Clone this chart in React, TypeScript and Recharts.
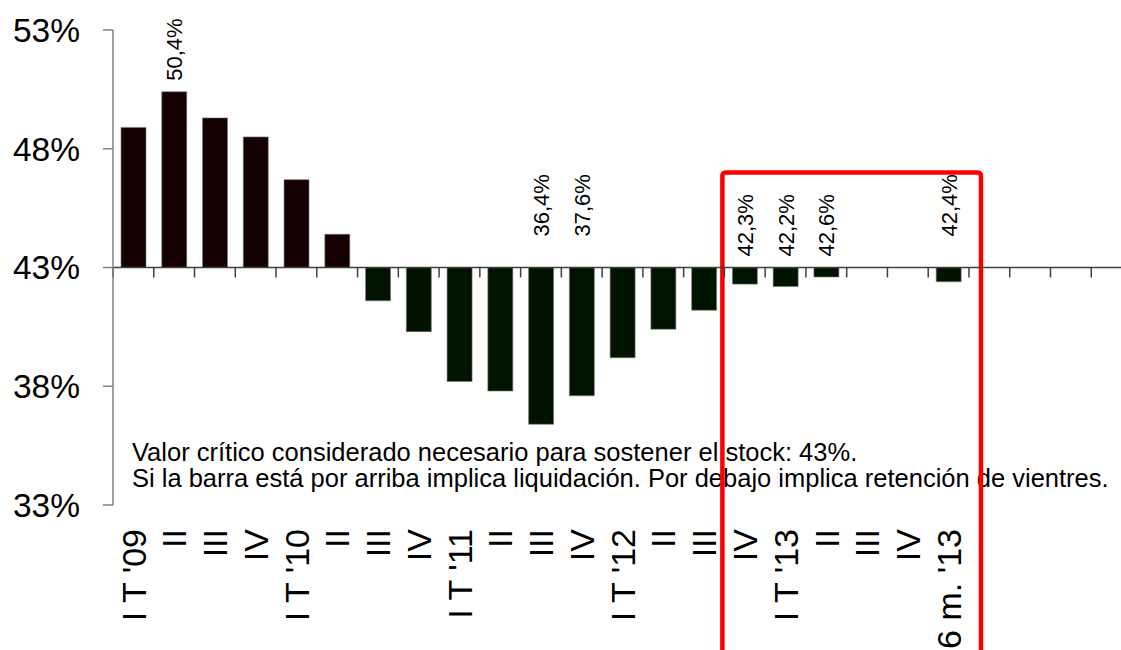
import React from 'react';
import {
  BarChart,
  Bar,
  XAxis,
  YAxis,
  Cell,
  LabelList,
  ReferenceLine,
  ReferenceArea,
} from 'recharts';

// quarters, 2009 to the first half of 2013 (last slots are empty)
const categories = [
  "I T '09", 'II', 'III', 'IV',
  "I T '10", 'II', 'III', 'IV',
  "I T '11", 'II', 'III', 'IV',
  "I T '12", 'II', 'III', 'IV',
  "I T '13", 'II', 'III', 'IV',
  "6 m. '13", '', '', '', '',
];

// share of females in slaughter, %
const values: (number | null)[] = [
  48.9, 50.4, 49.3, 48.5, 46.7, 44.4,
  41.6, 40.3, 38.2, 37.8, 36.4, 37.6, 39.2, 40.4, 41.2,
  42.3, 42.2, 42.6, null, null, 42.4,
  null, null, null, null,
];

// which bars carry a value label
const labeled = [
  false, true, false, false, false, false,
  false, false, false, false, true, true, false, false, false,
  true, true, true, false, false, true,
  false, false, false, false,
];

const yTicks = [33, 38, 43, 48, 53];
const critical = 43;

const FONT = '"Liberation Sans", Arial, sans-serif';
const POS_COLOR = '#140000';
const NEG_COLOR = '#001400';

const fmt = (v: number) => `${v.toFixed(1).replace('.', ',')}%`;

const rows = categories.map((c, i) => {
  const v = values[i];
  return {
    id: `c${i}`,
    value: v,
    range: v == null ? null : [Math.min(critical, v), Math.max(critical, v)],
    label: labeled[i] && v != null ? fmt(v) : null,
  };
});

const XTick = (props: any) => {
  const { x, y, payload } = props;
  const text = categories[payload.index];
  if (!text) return null;
  return (
    <text
      x={x}
      y={y}
      dy="0.36em"
      transform={`rotate(-90, ${x}, ${y})`}
      textAnchor="end"
      fontSize={34}
      fontFamily={FONT}
      fill="#000"
    >
      {text}
    </text>
  );
};

const BarLabel = (props: any) => {
  const { x, y, width, height, value, index } = props;
  if (!value) return null;
  const top = Math.min(y, y + height);
  const v = values[index] as number;
  // the deep negative labels sit a bit higher in the original
  const gap = v < 40 ? 31 : 11;
  const cx = x + width / 2;
  const cy = top - gap;
  return (
    <text
      x={cx}
      y={cy}
      dy="0.36em"
      transform={`rotate(-90, ${cx}, ${cy})`}
      textAnchor="start"
      fontSize={22}
      fontFamily={FONT}
      fill="#000"
    >
      {value}
    </text>
  );
};

// red frame around the 2013 bars
const Frame = (props: any) => {
  const { x, y, width, height } = props;
  return (
    <rect
      x={x - 2}
      y={y}
      width={width + 14}
      height={height}
      rx={3}
      fill="none"
      stroke="#ff0000"
      strokeWidth={4.5}
    />
  );
};

export default function App() {
  return (
    <div style={{ position: 'absolute', left: 0, top: 0, width: 1121, height: 650, overflow: 'hidden', background: '#fff' }}>
      {/* note under the bars */}
      <div style={{
        position: 'absolute', left: 132, top: 439,
        fontFamily: FONT, fontSize: '25.5px', lineHeight: '26px', color: '#000', whiteSpace: 'nowrap',
      }}>
        <div>Valor crítico considerado necesario para sostener el stock: 43%.</div>
        <div>Si la barra está por arriba implica liquidación. Por debajo implica retención de vientres.</div>
      </div>

      <div style={{ position: 'absolute', left: 0, top: 0 }}>
        <BarChart
          width={1140}
          height={650}
          data={rows}
          margin={{ top: 30, right: 8, bottom: 0, left: 0 }}
        >
          <XAxis
            dataKey="id"
            interval={0}
            height={145}
            axisLine={false}
            tickLine={false}
            tickSize={0}
            tickMargin={24}
            tick={<XTick />}
          />
          <YAxis
            domain={[33, 53]}
            ticks={yTicks}
            width={113}
            allowDataOverflow
            tickFormatter={(v) => `${v}%`}
            axisLine={{ stroke: '#808080', strokeWidth: 1.5 }}
            tickLine={{ stroke: '#808080', strokeWidth: 1.5 }}
            tickSize={10}
            tickMargin={23}
            tick={{ fontSize: 33.5, fill: '#000', fontFamily: FONT }}
          />
          <Bar dataKey="range" barSize={25} isAnimationActive={false} stroke="#7a7a7a" strokeWidth={0.6}>
            {rows.map((r, i) => (
              <Cell key={i} fill={r.value != null && r.value >= critical ? POS_COLOR : NEG_COLOR} />
            ))}
            <LabelList dataKey="label" content={<BarLabel />} />
          </Bar>
          <ReferenceLine y={critical} stroke="#404040" strokeWidth={1.5} ifOverflow="visible" />
          {rows.map((r) => (
            <ReferenceLine
              key={r.id}
              position="start"
              segment={[{ x: r.id, y: critical }, { x: r.id, y: critical - 0.42 }]}
              stroke="#404040"
              strokeWidth={1.5}
            />
          ))}
          <ReferenceArea
            x1="c15"
            x2="c20"
            y1={47}
            y2={26}
            ifOverflow="visible"
            shape={<Frame />}
          />
        </BarChart>
      </div>
    </div>
  );
}
